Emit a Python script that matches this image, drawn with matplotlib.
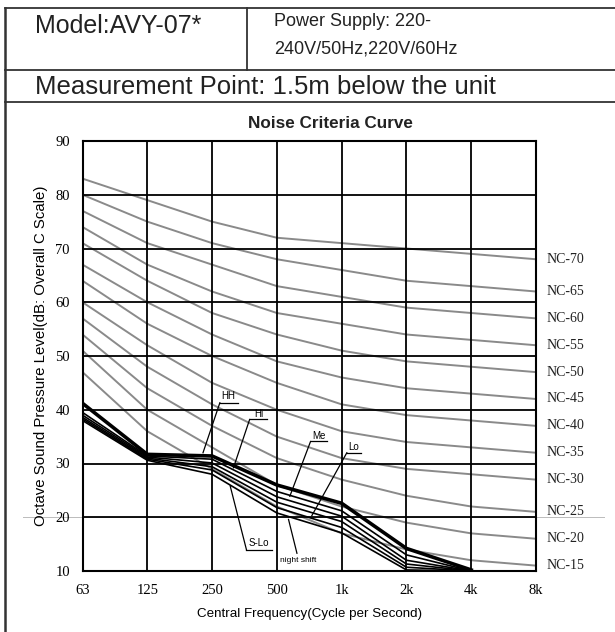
import matplotlib
matplotlib.use('Agg')
import matplotlib.pyplot as plt
from matplotlib.lines import Line2D

# octave band centre frequencies
freq_labels = ['63', '125', '250', '500', '1k', '2k', '4k', '8k']

# standard NC curves (dB at each octave band)
nc_names = ['NC-70', 'NC-65', 'NC-60', 'NC-55', 'NC-50', 'NC-45',
            'NC-40', 'NC-35', 'NC-30', 'NC-25', 'NC-20', 'NC-15']
nc_values = [
    [83, 79, 75, 72, 71, 70, 69, 68],
    [80, 75, 71, 68, 66, 64, 63, 62],
    [77, 71, 67, 63, 61, 59, 58, 57],
    [74, 67, 62, 58, 56, 54, 53, 52],
    [71, 64, 58, 54, 51, 49, 48, 47],
    [67, 60, 54, 49, 46, 44, 43, 42],
    [64, 56, 50, 45, 41, 39, 38, 37],
    [60, 52, 45, 40, 36, 34, 33, 32],
    [57, 48, 41, 35, 31, 29, 28, 27],
    [54, 44, 37, 31, 27, 24, 22, 21],
    [51, 40, 33, 26, 22, 19, 17, 16],
    [47, 36, 29, 22, 17, 14, 12, 11],
]

# measured unit noise, 63 Hz .. 4 kHz
fan_speeds = ['HH', 'Hi', 'Me', 'Lo', 'S-Lo', 'night shift']
fan_values = [
    [41.2, 31.7, 31.4, 26.0, 22.6, 14.2, 10.2],
    [39.5, 31.4, 30.8, 24.8, 21.2, 13.0, 10.0],
    [39.0, 31.2, 30.1, 23.8, 20.2, 12.0, 10.0],
    [38.6, 31.0, 29.4, 22.8, 19.2, 11.3, 10.0],
    [38.3, 30.8, 28.8, 21.8, 18.1, 10.7, 10.0],
    [38.0, 30.6, 28.0, 20.8, 17.1, 10.2, 10.0],
]

W, H = 615, 632
fig = plt.figure(figsize=(W / 100, H / 100), dpi=100)

# header table
def hline(y, x0=5, x1=615, lw=1.3):
    fig.add_artist(Line2D([x0 / W, x1 / W], [1 - y / H, 1 - y / H],
                          color='#333333', lw=lw))

def vline(x, y0, y1, lw=1.3):
    fig.add_artist(Line2D([x / W, x / W], [1 - y0 / H, 1 - y1 / H],
                          color='#333333', lw=lw))

hline(8)
hline(70)
hline(102)
vline(5, 8, 632, lw=1.8)
vline(247, 8, 70)

sans = ['Liberation Sans', 'DejaVu Sans']
narrow = ['Liberation Sans Narrow', 'Liberation Sans', 'DejaVu Sans']
serif = ['Liberation Serif', 'DejaVu Serif']

fig.text(35 / W, 1 - 26 / H, 'Model:AVY-07*', fontsize=18, family=sans,
         va='center', color='#222222')
fig.text(274 / W, 1 - 21 / H, 'Power Supply: 220-', fontsize=13,
         family=narrow, va='center', color='#222222')
fig.text(274 / W, 1 - 49 / H, '240V/50Hz,220V/60Hz', fontsize=13,
         family=narrow, va='center', color='#222222')
fig.text(35 / W, 1 - 87 / H, 'Measurement Point: 1.5m below the unit',
         fontsize=18.5, family=sans, va='center', color='#222222')
fig.text(330 / W, 1 - 124 / H, 'Noise Criteria Curve', fontsize=12.3,
         family=narrow, weight='bold', ha='center', va='center',
         color='#222222')

ax = fig.add_axes([82.5 / W, 1 - 571 / H, 453.5 / W, 430 / H])
x_all = list(range(len(freq_labels)))

for name, vals in zip(nc_names, nc_values):
    ax.plot(x_all, vals, color='#8a8a8a', lw=1.4, zorder=2)
    ax.text(7.16, vals[-1], name, fontsize=10, family=serif,
            va='center', ha='left', clip_on=False, color='#222222')

for i, (name, vals) in enumerate(zip(fan_speeds, fan_values)):
    ax.plot(x_all[:len(vals)], vals, color='black',
            lw=2.6 if i == 0 else 1.2, zorder=4)

# stray thin line at 20 dB, as in the source sheet
ax.plot([-0.92, 8.05], [20, 20], color='#bbbbbb', lw=0.7, clip_on=False,
        zorder=1)

# leader labels: text pos, underline span, leader start, leader end
labels = [
    ('HH', (2.25, 42.5), (2.12, 2.40), (2.12, 41.3), (1.86, 32.0)),
    ('Hi', (2.72, 39.3), (2.58, 2.85), (2.58, 38.2), (2.33, 29.2)),
    ('Me', (3.65, 35.2), (3.52, 3.78), (3.52, 34.1), (3.20, 23.9)),
    ('Lo', (4.19, 33.1), (4.08, 4.30), (4.08, 32.0), (3.54, 20.3)),
    ('S-Lo', (2.72, 15.2), (2.53, 2.93), (2.53, 14.0), (2.28, 25.8)),
]
for name, (tx, ty), (u0, u1), start, end in labels:
    ax.text(tx, ty, name, fontsize=7, family=narrow, ha='center',
            va='center', zorder=6)
    ax.plot([u0, u1], [start[1], start[1]], color='black', lw=0.9, zorder=6)
    ax.plot([start[0], end[0]], [start[1], end[1]], color='black', lw=0.9,
            zorder=6)
ax.text(3.33, 12.0, 'night shift', fontsize=6, family=narrow, ha='center',
        va='center', zorder=6)
ax.plot([3.31, 3.18], [13.3, 19.6], color='black', lw=0.9, zorder=6)

ax.set_xlim(0, 7)
ax.set_ylim(10, 90)
ax.set_xticks(x_all)
ax.set_xticklabels(freq_labels)
ax.set_yticks(range(10, 91, 10))
ax.tick_params(length=0, labelsize=10.5, pad=9)
for lab in ax.get_xticklabels() + ax.get_yticklabels():
    lab.set_family(serif)
ax.grid(True, color='black', lw=1.3, zorder=3)
ax.set_axisbelow(False)
for s in ax.spines.values():
    s.set_linewidth(1.5)

ax.set_xlabel('Central Frequency(Cycle per Second)', fontsize=9.6,
              family=narrow, labelpad=8)
ax.set_ylabel('Octave Sound Pressure Level(dB: Overall C Scale)',
              fontsize=10.8, family=narrow, labelpad=5)

fig.savefig('out.png', dpi=100)
